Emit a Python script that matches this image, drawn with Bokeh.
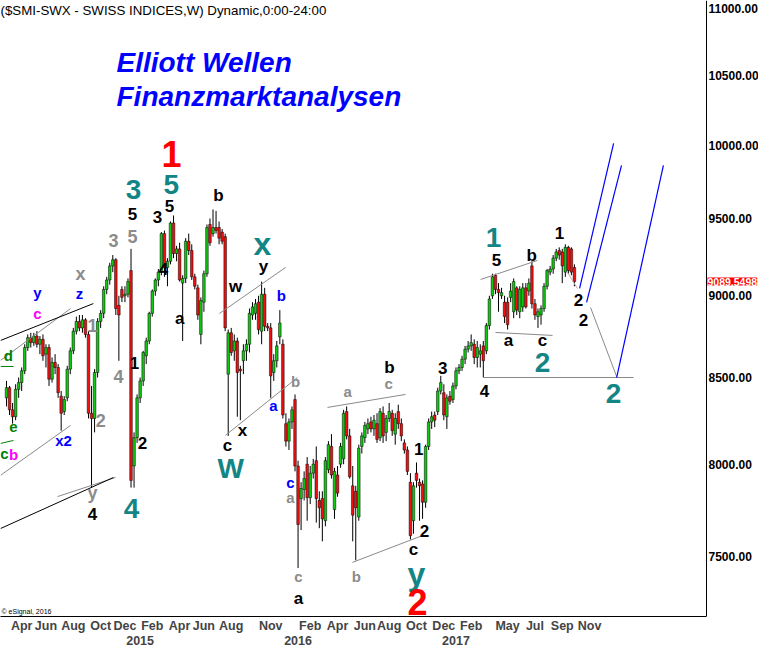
from bokeh.plotting import figure
from bokeh.models import ColumnDataSource, FixedTicker, NumeralTickFormatter, LinearAxis, Range1d, Label
from bokeh.core.properties import value
from bokeh.embed import file_html
from bokeh.resources import INLINE

FONT = "Liberation Sans"

# Weekly bars; week index 0 = week of 3 Mar 2014
opens = [
    8380, 8440, 8310, 8270, 8430, 8470, 8540, 8680, 8740, 8710,
    8750, 8700, 8730, 8640, 8680, 8490, 8590, 8560, 8390, 8300,
    8380, 8550, 8660, 8780, 8840, 8800, 8850, 8760, 8290, 8260,
    8530, 8840, 8890, 9040, 9100, 9190, 9230, 8940, 9040, 9000,
    9010, 9160, 7990, 8150, 8380, 8480, 8630, 8720, 8890, 9030,
    9100, 9150, 9400, 9180, 9220, 9470, 9270, 9300, 9080, 9110,
    9350, 9290, 9120, 9050, 8760, 8960, 9140, 9460, 9400, 9440,
    9440, 9410, 9380, 8520, 8770, 8660, 8720, 8550, 8600, 8660,
    8700, 8880, 8890, 8960, 8780, 9010, 8810, 8800, 8530, 8600,
    8745, 8700, 8230, 8130, 8240, 8370, 7990, 7810, 7860, 8000,
    7815, 7950, 8020, 7800, 7810, 7690, 7970, 8100, 7750, 7940,
    8000, 8030, 8300, 8160, 7880, 7850, 7710, 8100, 8150, 8200,
    8240, 8200, 8230, 8150, 8290, 8180, 8260, 8290, 8170, 8300,
    8230, 8120, 8080, 7900, 7690, 7950, 7900, 7890, 7790, 8100,
    8240, 8280, 8300, 8420, 8410, 8270, 8390, 8370, 8450, 8540,
    8560, 8610, 8670, 8690, 8700, 8620, 8640, 8690, 8660, 8815,
    9000, 9130, 9040, 9000, 8960, 8960, 8990, 8900, 9050, 8900,
    8930, 9050, 9030, 9190, 8950, 8870, 8880, 8920, 9060, 9150,
    9170, 9240, 9290, 9280, 9150, 9310, 9300, 9180,
]
highs = [
    8480, 8450, 8350, 8460, 8500, 8560, 8700, 8760, 8770, 8770,
    8780, 8750, 8760, 8700, 8700, 8620, 8640, 8580, 8420, 8390,
    8570, 8680, 8800, 8870, 8880, 8880, 8860, 8780, 8450, 8550,
    8860, 8910, 9060, 9120, 9210, 9260, 9240, 9000, 9060, 9060,
    9110, 9300, 8180, 8400, 8500, 8660, 8740, 8900, 9040, 9110,
    9170, 9410, 9420, 9240, 9480, 9520, 9320, 9340, 9130, 9370,
    9400, 9330, 9140, 9070, 8990, 9160, 9460, 9500, 9560, 9550,
    9480, 9430, 9400, 8790, 8800, 8760, 8740, 8570, 8700, 8730,
    8920, 8960, 8980, 9000, 9090, 9050, 8830, 8830, 8640, 8720,
    8910, 8730, 8290, 8260, 8330, 8400, 8020, 7900, 7960, 8040,
    7990, 8030, 8100, 7850, 7850, 8040, 8130, 8170, 7980, 7990,
    8120, 8310, 8330, 8200, 7990, 7880, 8110, 8180, 8240, 8260,
    8270, 8280, 8290, 8320, 8330, 8280, 8350, 8310, 8290, 8340,
    8260, 8140, 8100, 7950, 7900, 8010, 7920, 7910, 8110, 8260,
    8300, 8300, 8440, 8510, 8460, 8400, 8420, 8470, 8560, 8580,
    8630, 8690, 8720, 8760, 8730, 8720, 8700, 8720, 8830, 9000,
    9140, 9140, 9080, 9050, 9000, 8990, 9080, 9110, 9060, 9060,
    9080, 9080, 9110, 9220, 8980, 8920, 8940, 9080, 9170, 9190,
    9260, 9300, 9310, 9300, 9330, 9320, 9310, 9200,
]
lows = [
    8330, 8280, 8230, 8250, 8380, 8420, 8520, 8660, 8680, 8690,
    8680, 8640, 8600, 8560, 8450, 8470, 8520, 8380, 8190, 8280,
    8360, 8520, 8640, 8760, 8780, 8770, 8740, 8260, 7870, 8180,
    8500, 8800, 8860, 9010, 9070, 9150, 8880, 8600, 8960, 8960,
    8990, 7870, 7870, 8120, 8350, 8450, 8580, 8700, 8870, 9000,
    9060, 9130, 9120, 9060, 9200, 9240, 9220, 9090, 8720, 9080,
    9260, 9100, 9040, 8850, 8700, 8900, 9120, 9320, 9380, 9400,
    9330, 9330, 8780, 8160, 8630, 8600, 8270, 8250, 8520, 8600,
    8650, 8850, 8850, 8760, 8700, 8780, 8780, 8380, 8480, 8560,
    8700, 8260, 8100, 8080, 8200, 7960, 7440, 7640, 7800, 7690,
    7780, 7920, 7680, 7650, 7580, 7660, 7950, 7920, 7700, 7820,
    7980, 8000, 8140, 7920, 7580, 7480, 7690, 8060, 8120, 8170,
    8180, 8160, 8120, 8130, 8120, 8130, 8240, 8160, 8110, 8200,
    8130, 8060, 7940, 7590, 7620, 7870, 7690, 7700, 7760, 8080,
    8200, 8210, 8280, 8400, 8250, 8200, 8340, 8350, 8430, 8520,
    8540, 8580, 8650, 8660, 8580, 8560, 8560, 8500, 8640, 8790,
    8980, 9010, 8900, 8980, 8830, 8790, 8960, 8860, 8880, 8860,
    8900, 8920, 9000, 8920, 8850, 8800, 8820, 8900, 9040, 9130,
    9140, 9220, 9230, 9080, 9120, 9140, 9130, 9060,
]
closes = [
    8440, 8310, 8270, 8430, 8470, 8540, 8680, 8740, 8710, 8750,
    8700, 8730, 8630, 8680, 8490, 8590, 8560, 8410, 8290, 8370,
    8550, 8660, 8780, 8840, 8800, 8850, 8760, 8290, 8260, 8530,
    8840, 8890, 9040, 9100, 9190, 9230, 8920, 8880, 8990, 9010,
    9090, 7910, 8150, 8380, 8480, 8650, 8720, 8890, 9030, 9100,
    9150, 9400, 9180, 9220, 9470, 9270, 9300, 9100, 9110, 9350,
    9290, 9120, 9060, 8880, 8970, 9140, 9440, 9340, 9440, 9420,
    9370, 9350, 8800, 8770, 8650, 8720, 8530, 8540, 8660, 8700,
    8890, 8930, 8950, 8790, 9010, 8810, 8800, 8510, 8600, 8690,
    8830, 8280, 8130, 8240, 8310, 7990, 7670, 7865, 7920, 7815,
    7950, 8000, 7810, 7760, 7700, 8020, 8110, 7940, 7960, 7840,
    8100, 8290, 8160, 7930, 7720, 7760, 8090, 8160, 8220, 8230,
    8200, 8250, 8140, 8300, 8160, 8260, 8300, 8190, 8260, 8230,
    8160, 8080, 7960, 7610, 7880, 7910, 7880, 7790, 8100, 8240,
    8270, 8250, 8420, 8470, 8280, 8380, 8360, 8450, 8540, 8560,
    8610, 8670, 8690, 8710, 8620, 8680, 8660, 8600, 8815, 8980,
    9120, 9040, 9020, 9020, 8870, 8820, 9030, 9090, 8910, 9040,
    9050, 8930, 9080, 8950, 8880, 8900, 8920, 9060, 9160, 9170,
    9240, 9280, 9260, 9190, 9310, 9160, 9150, 9089.5498,
]
last_price = 9089.5498

month_ticks = [5, 13, 22, 31, 39, 48, 57, 65, 74, 87, 100, 109, 118, 126, 135, 144, 153, 165, 174, 183, 192]
month_labels = ["Apr", "Jun", "Aug", "Oct", "Dec", "Feb", "Apr", "Jun", "Aug", "Nov", "Feb",
                "Apr", "Jun", "Aug", "Oct", "Dec", "Feb", "May", "Jul", "Sep", "Nov"]
year_ticks = [44, 96, 148]
year_labels = ["2015", "2016", "2017"]
price_ticks = [7500, 8000, 8500, 9000, 9500, 10000, 10500, 11000]

# Drawn trend lines: (week0, price0, week1, price1)
black_lines = [(-1.98, 8723, 28.6, 8951), (-1.98, 7648, 35.2, 7926)]
gray_lines = [(-1.98, 8602, 21.1, 8920), (-1.98, 7938, 21.1, 8220), (16.8, 7821, 35.9, 7926),
              (70.1, 8889, 91.9, 9180), (72.1, 8163, 95.8, 8500), (105.7, 8324, 131.4, 8400),
              (113.9, 7469, 137.0, 7611), (156.1, 9103, 174.8, 9225), (161.0, 8772, 179.8, 8754),
              (157.1, 8500, 206.5, 8500), (192.3, 8927, 200.9, 8506)]
pale_lines = [(184.7, 9148, 188.0, 9046)]
green_lines = [(-1.98, 8566, 2.3, 8566), (-1.98, 8117, 2.3, 8134)]
blue_lines = [(188.7, 9046, 199.9, 10012), (191.0, 8958, 202.5, 9859), (200.9, 8500, 216.3, 9859)]

# Wave labels: (text, week, price)
red_labels = [("1", 54.3, 9941), ("2", 135.3, 7263)]
teal_labels = [("3", 41.8, 9695), ("5", 54.3, 9728), ("W", 73.8, 7976), ("4", 41.2, 7756),
               ("1", 160.4, 9374), ("2", 176.5, 8590), ("2", 199.9, 8405)]
teal_small_letters = [("x", 84.3, 9329), ("y", 135.0, 7411)]
black_labels = [("5", 41.5, 9527), ("3", 49.7, 9513), ("5", 53.7, 9586), ("4", 51.7, 9173),
                ("a", 57.0, 8858), ("b", 69.8, 9654), ("y", 84.6, 9186), ("w", 75.4, 9059),
                ("a", 96.1, 7283), ("c", 72.8, 8106), ("x", 77.7, 8191), ("4", 28.3, 7724),
                ("2", 44.8, 8117), ("1", 42.1, 8584), ("b", 126.1, 8560), ("1", 135.7, 8083),
                ("2", 137.6, 7637), ("c", 134.0, 7537), ("3", 143.6, 8554), ("4", 157.4, 8423),
                ("5", 161.3, 9225), ("b", 172.9, 9258), ("a", 165.3, 8723), ("c", 176.5, 8723),
                ("1", 182.1, 9401), ("2", 188.3, 8976), ("2", 190.0, 8846)]
gray_big_labels = [("5", 41.5, 9381), ("3", 35.2, 9355), ("y", 28.3, 7843), ("4", 36.9, 8506),
                   ("2", 31.0, 8249), ("1", 28.3, 8815), ("x", 24.4, 9135)]
gray_labels = [("b", 95.2, 8476), ("a", 93.5, 7816), ("c", 96.1, 7396), ("a", 112.3, 8417),
               ("c", 125.8, 8464), ("b", 115.2, 7396)]
blue_labels = [("b", 90.5, 9001), ("a", 87.9, 8335), ("c", 93.5, 7898), ("x2", 18.8, 8134),
               ("z", 24.0, 9014), ("y", 10.2, 9021)]
magenta_labels = [("c", 10.2, 8889), ("b", 2.3, 8055)]
green_labels = [("d", 0.6, 8632), ("e", 2.3, 8209), ("c", -0.7, 8060)]

X_START, X_END = -1.9756, 247.61   # visible week span of the frame
AXIS_WEEK = 230.49                  # week position where the price scale sits

FRAME_W, FRAME_H = 758, 616
p = figure(frame_width=FRAME_W, frame_height=FRAME_H,
           x_range=Range1d(X_START, X_END), y_range=Range1d(7191.8, 11064.2),
           y_axis_type="log", y_axis_location="right",
           output_backend="svg", toolbar_location=None,
           min_border_left=0, min_border_right=0, min_border_top=0, min_border_bottom=0)
p.outline_line_color = None
p.xgrid.visible = False
p.ygrid.visible = False

# price axis, pinned at the right edge of the chart area
yax = p.yaxis[0]
yax.fixed_location = AXIS_WEEK
yax.ticker = FixedTicker(ticks=price_ticks)
yax.formatter = NumeralTickFormatter(format="0.00")
yax.major_tick_line_color = None
yax.minor_tick_line_color = None
yax.major_tick_out = 0
yax.major_tick_in = 0
yax.major_label_standoff = 2
yax.major_label_text_font = FONT
yax.major_label_text_font_style = "bold"
yax.major_label_text_font_size = "12px"
yax.major_label_text_color = "black"
yax.axis_line_color = "black"

# month axis
xax = p.xaxis[0]
xax.bounds = (X_START, AXIS_WEEK)
xax.ticker = FixedTicker(ticks=month_ticks)
xax.major_label_overrides = {t: l for t, l in zip(month_ticks, month_labels)}
xax.major_tick_line_color = None
xax.minor_tick_line_color = None
xax.major_tick_out = 0
xax.major_tick_in = 0
xax.major_label_standoff = 2
xax.major_label_text_font = FONT
xax.major_label_text_font_style = "bold"
xax.major_label_text_font_size = "12.5px"
xax.axis_line_color = "black"

yr = LinearAxis(ticker=FixedTicker(ticks=year_ticks),
                major_label_overrides={t: l for t, l in zip(year_ticks, year_labels)},
                axis_line_color=None, major_tick_line_color=None, minor_tick_line_color=None,
                major_tick_out=0, major_tick_in=0, major_label_standoff=0,
                major_label_text_font=FONT, major_label_text_font_style="bold",
                major_label_text_font_size="12.5px")
p.add_layout(yr, "below")

# candles
weeks = list(range(len(closes)))
def bar_source(rising):
    d = dict(x=[], top=[], bottom=[], hi=[], lo=[])
    for w, o, h, l, c in zip(weeks, opens, highs, lows, closes):
        if (c >= o) == rising:
            d["x"].append(w)
            d["top"].append(max(o, c))
            d["bottom"].append(min(o, c))
            d["hi"].append(h)
            d["lo"].append(l)
    return ColumnDataSource(d)

src_up = bar_source(True)
src_dn = bar_source(False)
for src in (src_up, src_dn):
    p.segment(x0="x", y0="lo", x1="x", y1="hi", source=src, line_color="black", line_width=1)
p.vbar(x="x", top="top", bottom="bottom", width=0.85, source=src_up,
       fill_color="#10C810", line_color="black", line_width=0.5)
p.vbar(x="x", top="top", bottom="bottom", width=0.85, source=src_dn,
       fill_color="#F01010", line_color="black", line_width=0.5)

def draw_lines(lines, color, width=1.0):
    src = ColumnDataSource(dict(x0=[l[0] for l in lines], y0=[l[1] for l in lines],
                                x1=[l[2] for l in lines], y1=[l[3] for l in lines]))
    p.segment(x0="x0", y0="y0", x1="x1", y1="y1", source=src, line_color=color, line_width=width)

draw_lines(gray_lines, "#8A8A8A")
draw_lines(pale_lines, "#C0A8A8")
draw_lines(black_lines, "black")
draw_lines(green_lines, "#008000")
draw_lines(blue_lines, "#0000FF", 1.2)

def draw_labels(labels, color, size, style="bold"):
    src = ColumnDataSource(dict(t=[l[0] for l in labels], x=[l[1] for l in labels],
                                y=[l[2] for l in labels]))
    p.text(x="x", y="y", text="t", source=src, text_color=color, text_font=value(FONT),
           text_font_size=size, text_font_style=style, text_align="center",
           text_baseline="middle")

draw_labels(gray_big_labels, "#8C8C8C", "18px")
draw_labels(gray_labels, "#8C8C8C", "15px")
draw_labels(black_labels, "black", "17px")
draw_labels(blue_labels, "#0000FF", "15px")
draw_labels(magenta_labels, "#FF00FF", "15px")
draw_labels(green_labels, "#008000", "15px")
draw_labels(teal_labels, "#138585", "28px")
draw_labels(teal_small_letters, "#138585", "32px")
draw_labels(red_labels, "#FF0000", "36px")

# texts in screen space
p.add_layout(Label(x=0, y=FRAME_H - 2, x_units="screen", y_units="screen",
                   text="($SMI-SWX - SWISS INDICES,W) Dynamic,0:00-24:00",
                   text_font=FONT, text_font_size="13.3px", text_baseline="top", text_color="black"))
p.add_layout(Label(x=116, y=FRAME_H - 62, x_units="screen", y_units="screen", text="Elliott Wellen",
                   text_font=FONT, text_font_size="28px", text_font_style="bold italic",
                   text_color="#0000FF", text_baseline="middle"))
p.add_layout(Label(x=116, y=FRAME_H - 96, x_units="screen", y_units="screen", text="Finanzmarktanalysen",
                   text_font=FONT, text_font_size="28px", text_font_style="bold italic",
                   text_color="#0000FF", text_baseline="middle"))
p.add_layout(Label(x=1, y=2, x_units="screen", y_units="screen", text="\u00a9 eSignal, 2016",
                   text_font=FONT, text_font_size="7px", text_baseline="bottom", text_color="black"))
# last-price marker on the price scale
p.add_layout(Label(x=AXIS_WEEK, y=last_price, x_offset=1, text="9089.5498", text_font=FONT,
                   text_font_size="10.5px", text_font_style="bold", text_color="white",
                   background_fill_color="#FF0000", text_baseline="middle"))

open("out.html", "w").write(file_html(p, INLINE))
